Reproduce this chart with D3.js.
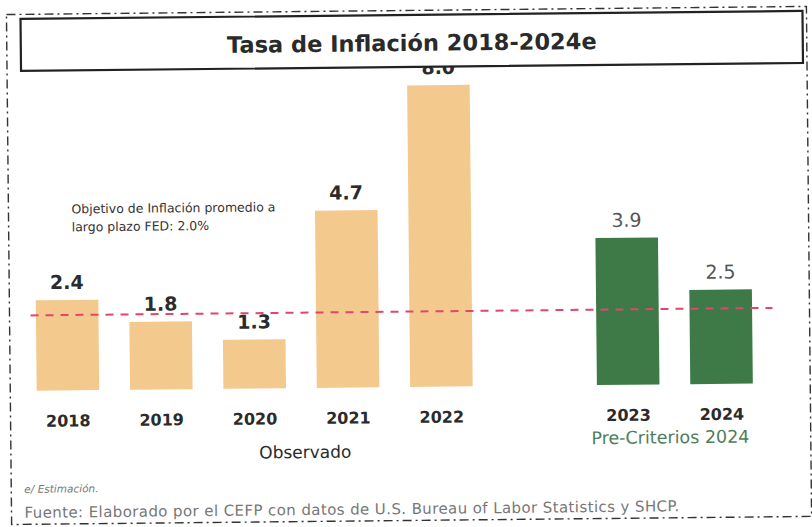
<!DOCTYPE html>
<html><head><meta charset="utf-8">
<script src="https://cdn.jsdelivr.net/npm/d3@7"></script>
<style>body{margin:0;background:#fff}svg{display:block}</style>
</head><body>
<script>
const categories = ["2018","2019","2020","2021","2022","2023","2024"];
const values = [2.4, 1.8, 1.3, 4.7, 8.0, 3.9, 2.5];
const groups = ["obs","obs","obs","obs","obs","pre","pre"];
const groupLabels = ["Observado","Pre-Criterios 2024"];
const fedTarget = 2.0;
const fedNote = ["Objetivo de Inflación promedio a","largo plazo FED: 2.0%"];
const title = "Tasa de Inflación 2018-2024e";
const notes = ["e/ Estimación.","Fuente: Elaborado por el CEFP con datos de U.S. Bureau of Labor Statistics y SHCP."];

const W = 812, H = 527;
const svg = d3.select("body").append("svg").attr("width", W).attr("height", H);
const g = svg.append("g").attr("transform", "rotate(-0.58,406,263)");

// band domain with an empty slot between observed and projected
const slots = ["2018","2019","2020","2021","2022","_gap","2023","2024"];
const x = d3.scaleBand().domain(slots).range([20, 767]).paddingInner(0.33).paddingOuter(0.165);
const y = d3.scaleLinear().domain([0, 10]).range([387, 10]);

const font = "'DejaVu Sans', sans-serif";
const colors = {obs: "#f3c98e", pre: "#3d7a47"};

// outer dash-dot border
g.append("rect").attr("x", 9).attr("y", 10.5).attr("width", 800).attr("height", 510)
  .attr("fill", "none").attr("stroke", "#333").attr("stroke-width", 1.4)
  .attr("stroke-dasharray", "9,4,2,4");

const data = categories.map((c, i) => ({c, v: values[i], grp: groups[i]}));

// bars
g.selectAll("rect.bar").data(data).join("rect").attr("class", "bar")
  .attr("x", d => x(d.c)).attr("width", x.bandwidth())
  .attr("y", d => y(d.v)).attr("height", d => y(0) - y(d.v))
  .attr("fill", d => colors[d.grp]);

// value labels
g.selectAll("text.val").data(data).join("text").attr("class", "val")
  .attr("x", d => x(d.c) + x.bandwidth() / 2).attr("y", d => y(d.v) - 11)
  .attr("text-anchor", "middle").attr("font-family", font)
  .attr("font-size", 19).attr("font-weight", d => d.grp === "obs" ? "bold" : "normal")
  .attr("fill", d => d.grp === "obs" ? "#2b2b2b" : "#555")
  .text(d => d.v.toFixed(1));

// category labels
g.selectAll("text.cat").data(data).join("text").attr("class", "cat")
  .attr("x", d => x(d.c) + x.bandwidth() / 2).attr("y", y(0) + 36)
  .attr("text-anchor", "middle").attr("font-family", font)
  .attr("font-size", 16).attr("font-weight", "bold").attr("fill", "#2b2b2b")
  .text(d => d.c);

// FED target line
g.append("line").attr("x1", 30).attr("x2", 772)
  .attr("y1", y(fedTarget)).attr("y2", y(fedTarget))
  .attr("stroke", "#e0466e").attr("stroke-width", 2).attr("stroke-dasharray", "8,7");

// FED note
g.append("text").attr("font-family", font).attr("font-size", 12.5).attr("fill", "#333")
  .selectAll("tspan").data(fedNote).join("tspan")
  .attr("x", 72).attr("y", (d, i) => 210 + i * 18).text(d => d);

// group labels
const obsCenter = (x("2018") + x("2022") + x.bandwidth()) / 2 + 50;
const preCenter = (x("2023") + x("2024") + x.bandwidth()) / 2 - 5;
g.append("text").attr("x", obsCenter).attr("y", y(0) + 70).attr("text-anchor", "middle")
  .attr("font-family", font).attr("font-size", 17).attr("fill", "#2b2b2b").text(groupLabels[0]);
g.append("text").attr("x", preCenter).attr("y", y(0) + 59).attr("text-anchor", "middle")
  .attr("font-family", font).attr("font-size", 17.5).attr("fill", "#4f7d5a").text(groupLabels[1]);

// title box (drawn over the 2022 label)
g.append("rect").attr("x", 23).attr("y", 15).attr("width", 782).attr("height", 52)
  .attr("fill", "#fff").attr("stroke", "#222").attr("stroke-width", 2.2);
g.append("text").attr("x", 414).attr("y", 51).attr("text-anchor", "middle")
  .attr("font-family", font).attr("font-size", 22.5).attr("font-weight", "bold")
  .attr("fill", "#2a2a2a").text(title);

// notes
g.append("text").attr("x", 22).attr("y", 489).attr("font-family", font)
  .attr("font-size", 10.5).attr("font-style", "italic").attr("fill", "#777").text(notes[0]);
g.append("text").attr("x", 22).attr("y", 514).attr("font-family", font)
  .attr("font-size", 15).attr("letter-spacing", 0.4).attr("fill", "#777").text(notes[1]);
</script>
</body></html>
